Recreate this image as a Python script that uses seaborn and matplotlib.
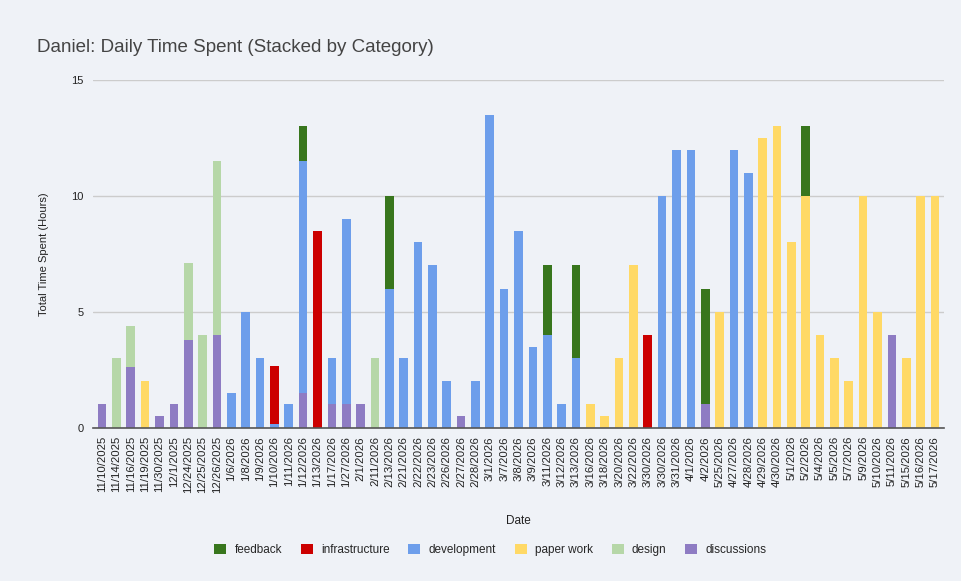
import numpy as np
import pandas as pd
import seaborn as sns
import matplotlib.pyplot as plt

# dates as shown on the x axis (3/30/2026 appears twice in the source sheet)
dates = ["11/10/2025", "11/14/2025", "11/16/2025", "11/19/2025", "11/30/2025", "12/1/2025",
         "12/24/2025", "12/25/2025", "12/26/2025", "1/6/2026", "1/8/2026", "1/9/2026",
         "1/10/2026", "1/11/2026", "1/12/2026", "1/13/2026", "1/17/2026", "1/27/2026",
         "2/1/2026", "2/11/2026", "2/13/2026", "2/21/2026", "2/22/2026", "2/23/2026",
         "2/26/2026", "2/27/2026", "2/28/2026", "3/1/2026", "3/7/2026", "3/8/2026",
         "3/9/2026", "3/11/2026", "3/12/2026", "3/13/2026", "3/16/2026", "3/18/2026",
         "3/20/2026", "3/22/2026", "3/30/2026", "3/30/2026", "3/31/2026", "4/1/2026",
         "4/2/2026", "5/25/2026", "4/27/2026", "4/28/2026", "4/29/2026", "4/30/2026",
         "5/1/2026", "5/2/2026", "5/4/2026", "5/5/2026", "5/7/2026", "5/9/2026",
         "5/10/2026", "5/11/2026", "5/15/2026", "5/16/2026", "5/17/2026"]

# hours per category, aligned with dates
feedback = [0, 0, 0, 0, 0, 0, 0, 0, 0, 0, 0, 0,
            0, 0, 1.5, 0, 0, 0, 0, 0, 4, 0, 0, 0,
            0, 0, 0, 0, 0, 0, 0, 3, 0, 4, 0, 0,
            0, 0, 0, 0, 0, 0, 5, 0, 0, 0, 0, 0,
            0, 3, 0, 0, 0, 0, 0, 0, 0, 0, 0]
infrastructure = [0, 0, 0, 0, 0, 0, 0, 0, 0, 0, 0, 0,
                  2.5, 0, 0, 8.5, 0, 0, 0, 0, 0, 0, 0, 0,
                  0, 0, 0, 0, 0, 0, 0, 0, 0, 0, 0, 0,
                  0, 0, 4, 0, 0, 0, 0, 0, 0, 0, 0, 0,
                  0, 0, 0, 0, 0, 0, 0, 0, 0, 0, 0]
development = [0, 0, 0, 0, 0, 0, 0, 0, 0, 1.5, 5, 3,
               0.15, 1, 10, 0, 2, 8, 0, 0, 6, 3, 8, 7,
               2, 0, 2, 13.5, 6, 8.5, 3.5, 4, 1, 3, 0, 0,
               0, 0, 0, 10, 12, 12, 0, 0, 12, 11, 0, 0,
               0, 0, 0, 0, 0, 0, 0, 0, 0, 0, 0]
paper_work = [0, 0, 0, 2, 0, 0, 0, 0, 0, 0, 0, 0,
              0, 0, 0, 0, 0, 0, 0, 0, 0, 0, 0, 0,
              0, 0, 0, 0, 0, 0, 0, 0, 0, 0, 1, 0.5,
              3, 7, 0, 0, 0, 0, 0, 5, 0, 0, 12.5, 13,
              8, 10, 4, 3, 2, 10, 5, 0, 3, 10, 10]
design = [0, 3, 1.8, 0, 0, 0, 3.3, 4, 7.5, 0, 0, 0,
          0, 0, 0, 0, 0, 0, 0, 3, 0, 0, 0, 0,
          0, 0, 0, 0, 0, 0, 0, 0, 0, 0, 0, 0,
          0, 0, 0, 0, 0, 0, 0, 0, 0, 0, 0, 0,
          0, 0, 0, 0, 0, 0, 0, 0, 0, 0, 0]
discussions = [1, 0, 2.6, 0, 0.5, 1, 3.8, 0, 4, 0, 0, 0,
               0, 0, 1.5, 0, 1, 1, 1, 0, 0, 0, 0, 0,
               0, 0.5, 0, 0, 0, 0, 0, 0, 0, 0, 0, 0,
               0, 0, 0, 0, 0, 0, 1, 0, 0, 0, 0, 0,
               0, 0, 0, 0, 0, 0, 0, 4, 0, 0, 0]

categories = ["feedback", "infrastructure", "development", "paper work", "design", "discussions"]
series = [feedback, infrastructure, development, paper_work, design, discussions]

palette = {
    "feedback": "#38761d",
    "infrastructure": "#cc0000",
    "development": "#6d9eeb",
    "paper work": "#ffd966",
    "design": "#b6d7a8",
    "discussions": "#8e7cc3",
}

rows = []
for cat, vals in zip(categories, series):
    for slot, v in enumerate(vals):
        if v > 0:
            rows.append({"slot": slot, "category": cat, "hours": v})
df = pd.DataFrame(rows)

sns.set_style("white")
plt.rcParams['font.family'] = ['Liberation Sans', 'DejaVu Sans']

bg = "#eff2f7"
fig = plt.figure(figsize=(9.62, 5.81), dpi=100, facecolor=bg)
ax = fig.add_axes([0.0967, 0.2639, 0.8846, 0.5984])
ax.set_facecolor(bg)

# histplot stacks the first hue level on top -> legend order gives discussions at bottom
sns.histplot(
    data=df, x="slot", weights="hours", hue="category",
    hue_order=categories, palette=palette,
    multiple="stack", discrete=True, shrink=0.6,
    alpha=1, linewidth=0, ax=ax
)

ax.set_xlim(-0.63, len(dates) - 1 + 0.63)
ax.set_ylim(0, 15)
ax.set_yticks([0, 5, 10, 15])
ax.set_xticks(np.arange(len(dates)))
ax.set_xticklabels(dates, rotation=90, fontsize=8.2, color="#222222")
ax.tick_params(axis="y", labelsize=8, colors="#222222", length=0, pad=7)
ax.tick_params(axis="x", length=0, pad=6)
ax.grid(axis="y", color="#cccccc", linewidth=1)
ax.set_axisbelow(True)
for s in ["top", "right", "left"]:
    ax.spines[s].set_visible(False)
ax.spines["bottom"].set_color("#555555")
ax.spines["bottom"].set_linewidth(1.2)

ax.set_ylabel("Total Time Spent (Hours)", fontsize=8, color="#222222", labelpad=16)
ax.set_xlabel("Date", fontsize=8.5, color="#222222", labelpad=16)

sns.move_legend(ax, "center", bbox_to_anchor=(0.467, -0.352), ncol=6, frameon=False,
                title=None, fontsize=8.5, handlelength=1.0, handleheight=1.0,
                columnspacing=1.6, handletextpad=0.7)

fig.text(0.038, 0.91, "Daniel: Daily Time Spent (Stacked by Category)",
         fontsize=13.5, color="#444444", va="baseline")

plt.savefig("out.png", dpi=100, facecolor=bg)
